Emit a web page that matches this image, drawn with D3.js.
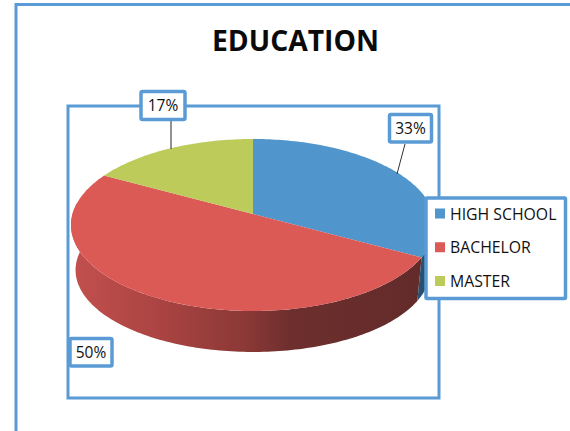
<!DOCTYPE html>
<html>
<head>
<meta charset="utf-8">
<script src="https://cdn.jsdelivr.net/npm/d3@7"></script>
<style>
  html, body { margin: 0; padding: 0; background: #fff; }
  svg { display: block; }
  text { font-family: "Open Sans", sans-serif; fill: #111; }
</style>
</head>
<body>
<svg width="570" height="431"></svg>
<script>
// Datos
const categories = ["HIGH SCHOOL", "BACHELOR", "MASTER"];
const values = [33, 50, 17];
const topColors = ["#5096cc", "#dc5a55", "#bccb5a"];

const frameColor = "#5b9bd5";
const svg = d3.select("svg");

const color = d3.scaleOrdinal().domain(categories).range(topColors);

// Pie angles
const arcs = d3.pie().sort(null).value(d => d.value)(
  categories.map((c, i) => ({ name: c, value: values[i] }))
);

// Perspective projection of the pie disc (near side looks bigger)
const cx = 253, cy = 214, rx = 180.5, ry = 84.6, persp = 0.128;
function project(a, sx = 1, sy = 1, dy = 0) {
  const u = Math.sin(a), v = Math.cos(a);
  const w = 1 + persp * v;
  return [cx + sx * rx * u / w, cy + dy + sy * ry * -v / w];
}
function arcPoints(a0, a1, sx, sy, dy) {
  const n = Math.max(2, Math.ceil((a1 - a0) / 0.02));
  return d3.range(n + 1).map(i => project(a0 + (a1 - a0) * i / n, sx, sy, dy));
}
const line = d3.line();

// Gradients for the side wall
const defs = svg.append("defs");
const redSide = defs.append("linearGradient").attr("id", "redSide")
  .attr("gradientUnits", "userSpaceOnUse")
  .attr("x1", 72).attr("x2", 424).attr("y1", 0).attr("y2", 0);
[[0, "#c2504e"], [0.25, "#aa4442"], [0.5, "#8a3836"], [0.62, "#6d2f2d"], [1, "#622b2a"]]
  .forEach(s => redSide.append("stop").attr("offset", s[0]).attr("stop-color", s[1]));

// Side wall: lower rim of the top face + lower rim of the base
const baseX = 0.975, baseY = 0.953, depth = 45.5;
function sidePath(a0, a1) {
  const top = arcPoints(a0, a1, 1, 1, 0);
  const base = arcPoints(a0, a1, baseX, baseY, depth).reverse();
  return line(top.concat(base)) + "Z";
}
const sideStart = arcs[0].endAngle;
const widest = 3 * Math.PI / 2 + 0.13;
svg.append("path").attr("d", sidePath(sideStart, widest)).attr("fill", "url(#redSide)");
svg.append("path").attr("d", sidePath(1.75, sideStart)).attr("fill", "#28506f");

// Top face
svg.selectAll("path.slice")
  .data(arcs)
  .join("path")
  .attr("class", "slice")
  .attr("d", d => line([[cx, cy]].concat(arcPoints(d.startAngle, d.endAngle, 1, 1, 0))) + "Z")
  .attr("fill", d => color(d.data.name));

// Frames
svg.append("path")
  .attr("d", "M16,431V4.5H570")
  .attr("fill", "none").attr("stroke", frameColor).attr("stroke-width", 3);
svg.append("rect")
  .attr("x", 68).attr("y", 106).attr("width", 371).attr("height", 292)
  .attr("fill", "none").attr("stroke", frameColor).attr("stroke-width", 3);

// Title
svg.append("text")
  .attr("x", 295.5).attr("y", 51)
  .attr("text-anchor", "middle")
  .attr("font-size", 28.3).attr("font-weight", 700)
  .style("fill", "#0a0a0a")
  .text("EDUCATION");

// Leader lines
svg.append("line").attr("x1", 171).attr("y1", 120).attr("x2", 171).attr("y2", 149)
  .attr("stroke", "#222").attr("stroke-width", 1);
svg.append("line").attr("x1", 405).attr("y1", 144).attr("x2", 397).attr("y2", 174)
  .attr("stroke", "#333").attr("stroke-width", 1);

// Data labels
const labelBoxes = [
  { x: 389.5, y: 114.5, w: 42, h: 27.5 },
  { x: 70, y: 338.5, w: 42, h: 27.5 },
  { x: 141, y: 91.5, w: 44, h: 28 }
];
const labels = svg.selectAll("g.label")
  .data(arcs)
  .join("g")
  .attr("class", "label")
  .attr("transform", (d, i) => `translate(${labelBoxes[i].x},${labelBoxes[i].y})`);
labels.append("rect")
  .attr("width", (d, i) => labelBoxes[i].w)
  .attr("height", (d, i) => labelBoxes[i].h)
  .attr("rx", 1.5)
  .attr("fill", "#fff").attr("stroke", frameColor).attr("stroke-width", 3.5);
labels.append("text")
  .attr("x", (d, i) => labelBoxes[i].w / 2)
  .attr("y", 19.5)
  .attr("text-anchor", "middle")
  .attr("font-size", 15.5)
  .text(d => d.data.value + "%");

// Legend
svg.append("rect")
  .attr("x", 426).attr("y", 198).attr("width", 139.5).attr("height", 100.5)
  .attr("rx", 1)
  .attr("fill", "#fff").attr("stroke", frameColor).attr("stroke-width", 3.5);
const legendY = d3.scalePoint().domain(categories).range([213.5, 281]);
const legend = svg.selectAll("g.legend")
  .data(categories)
  .join("g")
  .attr("class", "legend")
  .attr("transform", d => `translate(435,${legendY(d)})`);
legend.append("rect")
  .attr("y", -5).attr("width", 10).attr("height", 10)
  .attr("fill", d => color(d));
legend.append("text")
  .attr("x", 15).attr("y", 6)
  .attr("font-size", 15.8)
  .text(d => d);
</script>
</body>
</html>
